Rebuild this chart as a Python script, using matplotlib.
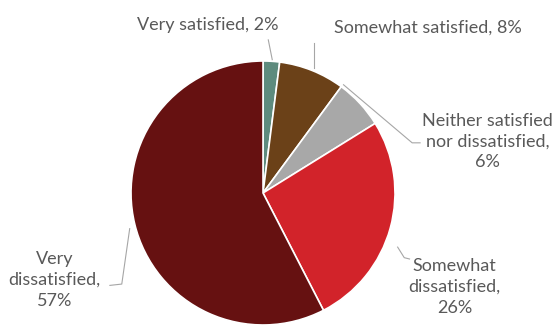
import matplotlib
matplotlib.use("Agg")
import matplotlib.pyplot as plt

labels = ["Very satisfied, 2%", "Somewhat satisfied, 8%",
          "Neither satisfied\nnor dissatisfied,\n6%",
          "Somewhat\ndissatisfied,\n26%", "Very\ndissatisfied,\n57%"]
values = [2, 8, 6, 26, 57]
colors = ["#5e8b7e", "#6b4118", "#a8a8a8", "#d2232a", "#661111"]

# label anchor (text centre) and leader line points, in pie-radius units
label_pos = [(-0.42, 1.27), (1.25, 1.25), (1.70, 0.39), (1.45, -0.71), (-1.58, -0.66)]
leaders = [
    [(0.04, 1.16), (0.07, 1.01)],
    [(0.39, 1.14), (0.39, 0.95)],
    [(0.61, 0.82), (1.13, 0.38), (1.19, 0.38)],
    [(1.02, -0.41), (1.07, -0.49), (1.11, -0.50)],
    [(-1.01, -0.27), (-1.07, -0.69), (-1.16, -0.70)],
]

plt.rcParams["font.family"] = ["Lato", "DejaVu Sans"]
fig = plt.figure(figsize=(5.58, 3.29), dpi=100)
ax = fig.add_axes([0.2348, 0.0122, 0.4731, 0.8024])
ax.pie(values, colors=colors, startangle=90, counterclock=False,
       wedgeprops=dict(edgecolor="white", linewidth=1.2))
ax.set_xlim(-1, 1); ax.set_ylim(-1, 1)
ax.set_aspect("equal")
ax.axis("off")

for lab, (x, y) in zip(labels, label_pos):
    ax.text(x, y, lab, ha="center", va="center", fontsize=13,
            color="#595959", linespacing=1.38, clip_on=False)
for pts in leaders:
    xs, ys = zip(*pts)
    ax.plot(xs, ys, color="#a6a6a6", lw=0.8, clip_on=False)

fig.savefig("out.png", dpi=100)
